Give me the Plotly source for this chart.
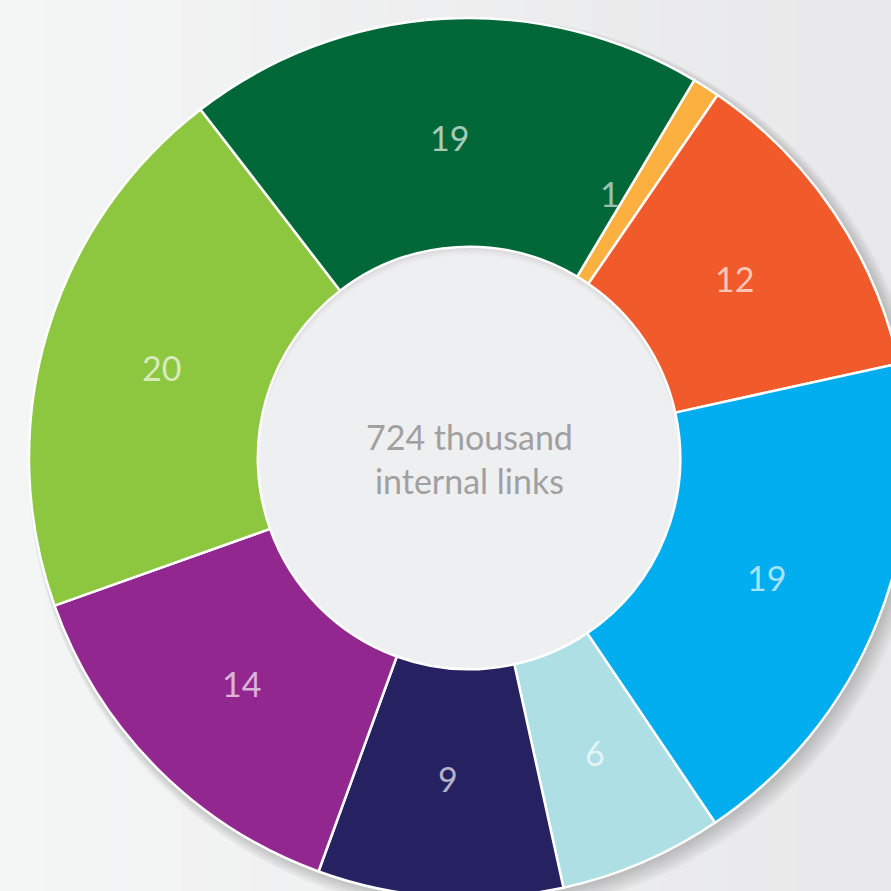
import plotly.graph_objects as go
import math

# Data (clockwise from the small slice near 12 o'clock)
labels = ["A", "B", "C", "D", "E", "F", "G", "H"]
values = [1, 12, 19, 6, 9, 14, 20, 19]
colors = ["#fbb040", "#f15a2b", "#00aeef", "#addfe5", "#262262", "#92278f", "#8dc63f", "#006838"]
center_text = "724 thousand<br>internal links"
start_angle = 30.8
hole = 0.48

fig = go.Figure()
fig.add_trace(go.Pie(
    labels=labels,
    values=values,
    textinfo="none",
    sort=False,
    direction="clockwise",
    rotation=start_angle,
    hole=hole,
    marker=dict(colors=colors, line=dict(color="white", width=2.5)),
    showlegend=False,
    hoverinfo="skip",
    domain=dict(x=[0, 1], y=[0, 1]),
))

px = 1 / 880.0
shapes = []
# background gradient (left lighter, right darker)
n = 40
c0 = (244, 245, 245)
c1 = (232, 232, 234)
x_left = -29 * px
x_right = 1 + 2 * px
for i in range(n):
    f = i / (n - 1)
    c = tuple(round(c0[k] + (c1[k] - c0[k]) * f) for k in range(3))
    xa = x_left + (x_right - x_left) * i / n
    xb = x_left + (x_right - x_left) * (i + 1) / n + px
    shapes.append(dict(type="rect", xref="paper", yref="paper", layer="below",
                       x0=xa, x1=xb, y0=-10 * px, y1=1 + 20 * px,
                       fillcolor="rgb(%d,%d,%d)" % c, line=dict(width=0)))
# soft outer shadow, offset down-right
for i in range(7):
    r = 0.5 + px * (1.5 * i)
    off = px * (2 + i)
    shapes.append(dict(type="circle", xref="paper", yref="paper", layer="below",
                       x0=0.5 - r + off, x1=0.5 + r + off, y0=0.5 - r - off, y1=0.5 + r - off,
                       fillcolor="rgba(0,0,0,0.03)", line=dict(width=0)))
# hole fill with an inner shadow at its top (stacked circles shifted downward;
# the ring itself hides whatever spills outside the hole)
rh = 0.5 * hole
hole_fills = ["#d6d6d8", "#dfdfe1", "#e6e6e8", "#eaeaec", "#eeeff0"]
for i, col in enumerate(hole_fills):
    off = px * 2.0 * i
    shapes.append(dict(type="circle", xref="paper", yref="paper", layer="below",
                       x0=0.5 - rh, x1=0.5 + rh, y0=0.5 - rh - off, y1=0.5 + rh - off,
                       fillcolor=col, line=dict(width=0)))

label_font = dict(family="Lato", size=34, color="rgba(255,255,255,0.66)", weight=400)
annotations = [dict(text=center_text, x=0.5, y=0.5, xref="paper", yref="paper", showarrow=False,
                    font=dict(family="Lato", size=34, color="#a0a0a0", weight=400), align="center")]

# slice value labels at ring middle
total = float(sum(values))
rr = 0.5 * (1 + hole) / 2 * 0.985
cum = 0
for v in values:
    a0 = start_angle + 360 * cum / total
    a1 = start_angle + 360 * (cum + v) / total
    if v / total >= 0.03:
        ang = math.radians((a0 + a1) / 2)
        annotations.append(dict(text=str(v), x=0.5 + rr * math.sin(ang), y=0.5 + rr * math.cos(ang),
                                xref="paper", yref="paper", showarrow=False,
                                xanchor="center", yanchor="middle", font=label_font))
    else:
        ang = math.radians(a0)
        r2 = rr * 0.96
        annotations.append(dict(text=str(v), x=0.5 + r2 * math.sin(ang), y=0.5 + r2 * math.cos(ang),
                                xref="paper", yref="paper", showarrow=False,
                                xanchor="right", yanchor="middle", xshift=-5,
                                font=dict(family="Lato", size=34, color="rgba(255,255,255,0.6)", weight=400)))
    cum += v

fig.update_layout(
    width=909, height=898,
    margin=dict(l=29, r=0, t=18, b=0),
    paper_bgcolor="#eeeff0",
    plot_bgcolor="#eeeff0",
    shapes=shapes,
    annotations=annotations,
)

fig.write_html("out.html", config={"displayModeBar": False},
               post_script="document.body.style.margin='0';document.body.style.overflow='hidden';document.documentElement.style.overflow='hidden';")
